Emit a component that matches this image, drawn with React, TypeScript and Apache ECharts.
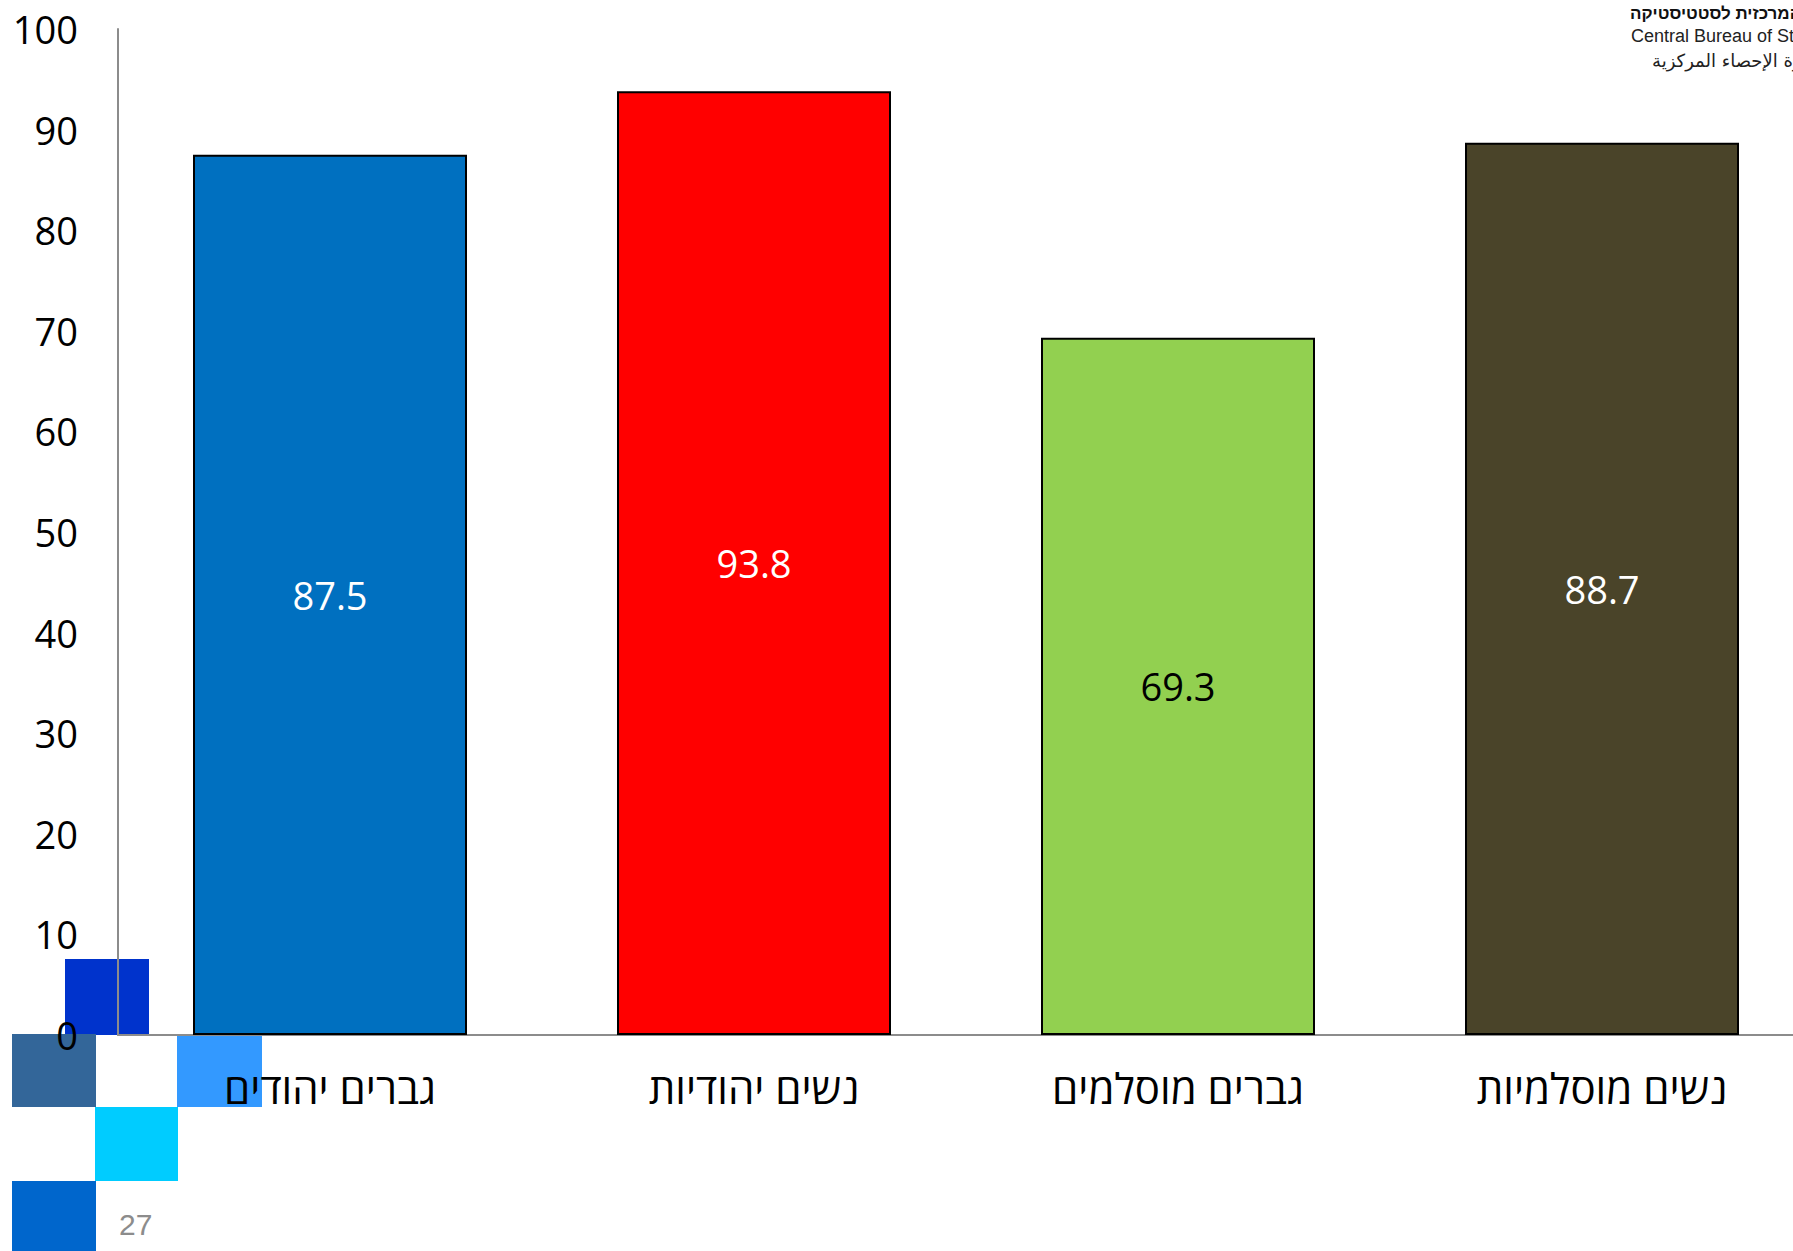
import React, { useEffect, useRef } from "react";
import * as echarts from "echarts";

const categories = ["גברים יהודים", "נשים יהודיות", "גברים מוסלמים", "נשים מוסלמיות"];
const values = [87.5, 93.8, 69.3, 88.7];
const barColors = ["#0070C0", "#FF0000", "#92D050", "#4A4429"];
const labelColors = ["#FFFFFF", "#FFFFFF", "#000000", "#FFFFFF"];
const yTicks = { min: 0, max: 100, interval: 10 };
const pageNumber = "27";
const logoLines = ["הלשכה המרכזית לסטטיסטיקה", "Central Bureau of Statistics", "دائرة الإحصاء المركزية"];

export default function App() {
  const ref = useRef<HTMLDivElement>(null);
  useEffect(() => {
    if (!ref.current) return;
    const chart = echarts.init(ref.current, undefined, { renderer: "svg" });
    const font = "'Open Sans', 'DejaVu Sans', sans-serif";
    chart.setOption({
      animation: false,
      backgroundColor: "#FFFFFF",
      grid: { left: 118, top: 29, bottom: 216, right: 0, containLabel: false },
      xAxis: {
        type: "category",
        data: categories,
        axisLine: { show: true, lineStyle: { color: "#8C8C8C", width: 2 } },
        axisTick: { show: false },
        axisLabel: { color: "#000000", fontSize: 42, fontFamily: font, margin: 31 },
        splitLine: { show: false },
      },
      yAxis: {
        type: "value",
        min: yTicks.min,
        max: yTicks.max,
        interval: yTicks.interval,
        axisLine: { show: true, lineStyle: { color: "#8C8C8C", width: 2 } },
        axisTick: { show: false },
        axisLabel: { color: "#000000", fontSize: 38, fontFamily: font, margin: 40 },
        splitLine: { show: false },
      },
      graphic: [
        { type: "rect", z: -10, shape: { x: 65, y: 959, width: 84, height: 76 }, style: { fill: "#0033CC" } },
        { type: "rect", z: -10, shape: { x: 12, y: 1034, width: 84, height: 73 }, style: { fill: "#336699" } },
        { type: "rect", z: -10, shape: { x: 177, y: 1034, width: 85, height: 73 }, style: { fill: "#3399FF" } },
        { type: "rect", z: -10, shape: { x: 95, y: 1107, width: 83, height: 74 }, style: { fill: "#00CCFF" } },
        { type: "rect", z: -10, shape: { x: 12, y: 1181, width: 84, height: 70 }, style: { fill: "#0066CC" } },
        {
          type: "text", x: 119, y: 1224,
          style: { text: pageNumber, fill: "#8C8C8C", fontSize: 30, fontFamily: "'Liberation Sans', Arial, sans-serif", verticalAlign: "middle", align: "left" },
        },
        {
          type: "text", x: 1630, y: 13,
          style: { text: logoLines[0], fill: "#111111", fontSize: 17, fontWeight: "bold", fontFamily: "'Liberation Sans', Arial, sans-serif", verticalAlign: "middle", align: "left" },
        },
        {
          type: "text", x: 1631, y: 36,
          style: { text: logoLines[1], fill: "#222222", fontSize: 18, fontFamily: "'Liberation Sans', Arial, sans-serif", verticalAlign: "middle", align: "left" },
        },
        {
          type: "text", x: 1652, y: 60,
          style: { text: logoLines[2], fill: "#222222", fontSize: 18, fontFamily: "'DejaVu Sans', sans-serif", verticalAlign: "middle", align: "left" },
        },
      ],
      series: [
        {
          type: "bar",
          barWidth: 274,
          data: values.map((v, i) => ({
            value: v,
            itemStyle: { color: barColors[i], borderColor: "#000000", borderWidth: 2 },
            label: { color: labelColors[i] },
          })),
          label: {
            show: true,
            position: "inside",
            fontSize: 38,
            fontFamily: font,
            formatter: (p: any) => p.value.toFixed(1),
          },
        },
      ],
    });
    return () => chart.dispose();
  }, []);
  return (
    <div style={{ position: "fixed", left: 0, top: 0, width: 1793, height: 1251, overflow: "hidden", background: "#fff" }}>
      <div ref={ref} style={{ position: "absolute", left: 0, top: 0, width: 1814, height: 1251 }} />
    </div>
  );
}
